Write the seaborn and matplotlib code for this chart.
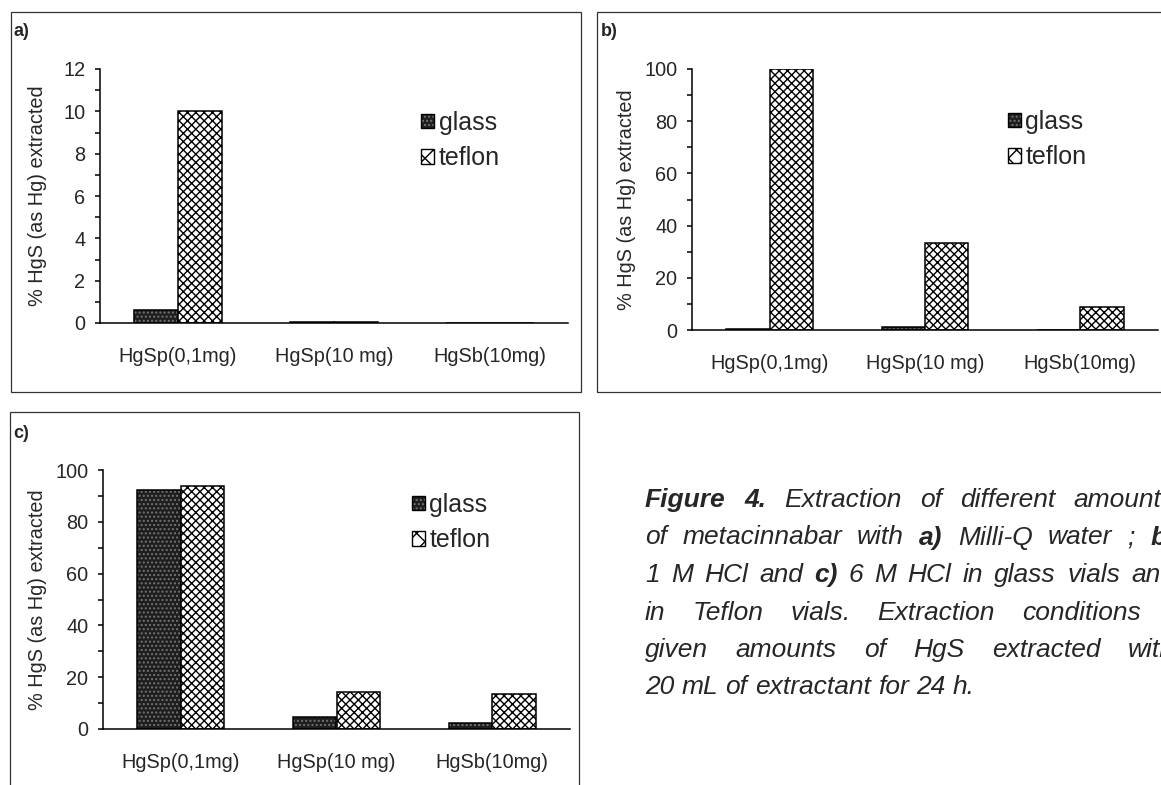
import numpy as np
import pandas as pd
import matplotlib
matplotlib.use("Agg")
import matplotlib.pyplot as plt
from matplotlib.patches import Patch, Rectangle
from matplotlib.ticker import MultipleLocator
import seaborn as sns

# ---------------------------------------------------------------- data
samples = ["HgSp(0,1mg)", "HgSp(10 mg)", "HgSb(10mg)"]
vials = ["glass", "teflon"]

# a) Milli-Q water
water_glass = [0.6, 0.04, 0.02]
water_teflon = [10.0, 0.05, 0.02]
# b) 1 M HCl
hcl1_glass = [0.3, 1.2, 0.0]
hcl1_teflon = [100.0, 33.3, 8.8]
# c) 6 M HCl
hcl6_glass = [92.3, 4.6, 2.2]
hcl6_teflon = [93.8, 14.3, 13.5]

panel_tags = ["a)", "b)", "c)"]
y_limits = [12, 100, 100]
y_steps = [2, 20, 20]
y_title = "% HgS (as Hg) extracted"

caption = [
    "*Figure *4. Extraction of different amounts",
    "of metacinnabar with *a) Milli-Q water ; *b)",
    "1 M HCl and *c) 6 M HCl in glass vials and",
    "in Teflon vials. Extraction conditions :",
    "given amounts of HgS extracted with",
    "20 mL of extractant for 24 h.",
]

# ---------------------------------------------------------------- style
sns.set_style("white")
plt.rcParams["font.family"] = ["Liberation Sans", "DejaVu Sans"]
plt.rcParams["hatch.linewidth"] = 1.0
plt.rcParams["axes.linewidth"] = 1.1

W, H = 1161, 785
fig = plt.figure(figsize=(W / 100, H / 100), dpi=100)
fig.patch.set_facecolor("white")


def fx(x):
    return x / W


def fy(y):
    return 1 - y / H


def axes_at(x0, y0, x1, y1):
    return fig.add_axes([fx(x0), fy(y1), fx(x1) - fx(x0), (y1 - y0) / H])


GLASS_FACE = "#1e1e1e"
GLASS_DOTS = (0.45, 0.45, 0.45, 1.0)


def style_glass(p):
    p.set_facecolor(GLASS_FACE)
    p.set_edgecolor("black")
    p.set_hatch("....")
    p._hatch_color = GLASS_DOTS


def style_teflon(p, hatch="xxxx"):
    p.set_facecolor("white")
    p.set_edgecolor("black")
    p.set_hatch(hatch)


panels = [
    dict(glass=water_glass, teflon=water_teflon, box=(100, 69, 568, 323),
         frame=(11, 12, 581, 392), tag=(14, 31), leg=(421, 111), ylab=47),
    dict(glass=hcl1_glass, teflon=hcl1_teflon, box=(692, 69, 1158, 330),
         frame=(597, 12, 1180, 392), tag=(601, 31), leg=(1008, 110), ylab=636),
    dict(glass=hcl6_glass, teflon=hcl6_teflon, box=(103, 470, 570, 729),
         frame=(10, 412, 579, 800), tag=(13, 433), leg=(412, 493), ylab=47),
]

for i, pnl in enumerate(panels):
    # panel frame
    fx0, fy0, fx1, fy1 = pnl["frame"]
    fig.patches.append(Rectangle((fx(fx0), fy(fy1)), fx(fx1) - fx(fx0), (fy1 - fy0) / H,
                                 transform=fig.transFigure, fill=False,
                                 edgecolor="#333333", linewidth=0.9))
    fig.text(fx(pnl["tag"][0]), fy(pnl["tag"][1]), panel_tags[i], fontsize=13,
             fontweight="bold", ha="left", va="center")

    df = pd.DataFrame({
        "sample": samples * 2,
        "vial": [vials[0]] * 3 + [vials[1]] * 3,
        "value": list(pnl["glass"]) + list(pnl["teflon"]),
    })
    ax = axes_at(*pnl["box"])
    sns.barplot(data=df, x="sample", y="value", hue="vial", order=samples,
                hue_order=vials, palette={"glass": GLASS_FACE, "teflon": "white"},
                width=0.56, edgecolor="black", linewidth=1.1, legend=False, ax=ax)
    for bar in ax.containers[0]:
        style_glass(bar)
    for bar in ax.containers[1]:
        style_teflon(bar)

    ax.set_facecolor("white")
    ax.set_xlim(-0.5, 2.5)
    ax.set_ylim(0, y_limits[i])
    ax.set_yticks(np.arange(0, y_limits[i] + 1, y_steps[i]))
    ax.yaxis.set_minor_locator(MultipleLocator(y_steps[i] / 2))
    ax.set_xticks([-0.5, 0.5, 1.5, 2.5], labels=["", "", "", ""])
    ax.set_xticks([0, 1, 2], labels=samples, minor=True)
    ax.tick_params(axis="x", which="major", length=5, width=1.1, direction="out",
                   color="black")
    ax.tick_params(axis="x", which="minor", length=0, pad=17, labelsize=14.3)
    ax.tick_params(axis="y", which="both", length=3.6, width=1.1, direction="out",
                   color="black", left=True)
    ax.tick_params(axis="y", which="major", pad=7, labelsize=14.3)
    for s in ("top", "right"):
        ax.spines[s].set_visible(False)
    for s in ("left", "bottom"):
        ax.spines[s].set_color("black")
    ax.set_xlabel("")
    ax.set_ylabel(y_title, fontsize=14.3)
    x0, _, x1, _ = pnl["box"]
    ax.yaxis.set_label_coords((pnl["ylab"] - x0) / (x1 - x0), 0.5)

    g = Patch(label="glass", linewidth=1.0)
    style_glass(g)
    t = Patch(label="teflon", linewidth=1.0)
    style_teflon(t, hatch="xx")
    ax.legend(handles=[g, t], loc="upper left",
              bbox_to_anchor=(fx(pnl["leg"][0]), fy(pnl["leg"][1])),
              bbox_transform=fig.transFigure, frameon=False, fontsize=18,
              borderpad=0, borderaxespad=0, handlelength=0.5, handleheight=0.5,
              handletextpad=0.2, labelspacing=0.45)

# ---------------------------------------------------------------- caption
LEFT, RIGHT = 645, 1175
BASE0, STEP = 507, 37.5
CAP_SIZE = 19
renderer = fig.canvas.get_renderer()


def text_width(s, **kw):
    t = fig.text(0, 0, s, fontsize=CAP_SIZE, style="italic", **kw)
    w = t.get_window_extent(renderer).width
    t.remove()
    return w


space_w = text_width("a a") - text_width("aa")

for n, line in enumerate(caption):
    pieces = []
    for word in line.split(" "):
        bold = word.startswith("*")
        word = word.lstrip("*")
        txt = fig.text(0, fy(BASE0 + n * STEP), word, fontsize=CAP_SIZE,
                       style="italic", fontweight="bold" if bold else "normal",
                       ha="left", va="baseline")
        pieces.append(txt)
    widths = [p.get_window_extent(renderer).width for p in pieces]
    if n < len(caption) - 1 and len(pieces) > 1:
        gap = (RIGHT - LEFT - sum(widths)) / (len(pieces) - 1)
    else:
        gap = space_w
    x = LEFT
    for p, w in zip(pieces, widths):
        p.set_x(fx(x))
        x += w + gap

fig.savefig("out.png", dpi=100, facecolor="white")
